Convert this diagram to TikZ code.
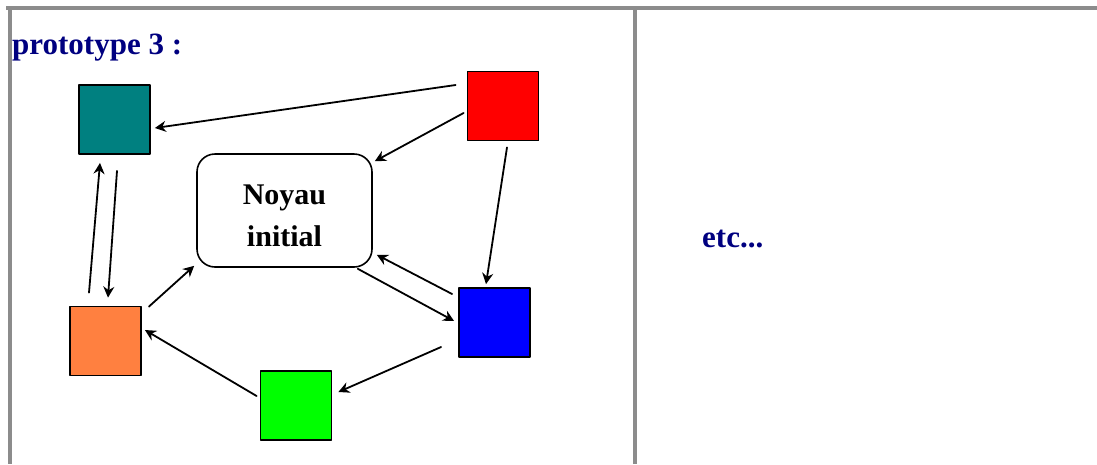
\documentclass[tikz,border=0pt]{standalone}
\usepackage{fontspec}
\setmainfont{Liberation Serif}
\usetikzlibrary{arrows.meta}
\definecolor{navy}{HTML}{000080}
\definecolor{tealbox}{HTML}{008080}
\definecolor{orangebox}{HTML}{FF8040}
\definecolor{framegray}{HTML}{8C8C8C}
\begin{document}
\begin{tikzpicture}[x=1pt, y=-1pt, line join=round, line cap=round,
	>={Stealth[length=11pt,width=11pt]},
	sq/.style={draw=black, line width=1.8pt, minimum width=71pt, minimum height=69pt, inner sep=0pt},
	arr/.style={->, line width=1.8pt},
	frame/.style={draw=framegray, line width=3.5pt, line cap=butt}]
	\useasboundingbox (0,0) rectangle (1097,464);
	\draw[frame] (6,8)--(1097,8) (10,8)--(10,464) (635,8)--(635,464);
	\node[anchor=base west, text=navy, font=\fontsize{31}{36}\selectfont\bfseries, inner sep=0pt] (title) at (12,54) {prototype 3 :};
	\node[anchor=base west, text=navy, font=\fontsize{31}{36}\selectfont\bfseries, inner sep=0pt] (etc) at (702,247) {etc...};
	\node[draw=black, line width=1.6pt, rounded corners=18pt, minimum width=175pt, minimum height=113pt,
		align=center, font=\fontsize{30}{42}\selectfont\bfseries] (noyau) at (284.5,210.5) {\rule{0pt}{31pt}Noyau\\initial};
	\node[sq, fill=tealbox] (teal) at (114.5,119.5) {};
	\node[sq, fill=red] (red) at (503,106) {};
	\node[sq, fill=orangebox] (orange) at (105.5,341) {};
	\node[sq, fill=blue] (blue) at (494.5,322.5) {};
	\node[sq, fill=green] (green) at (296,405.5) {};
	\draw[arr] ([xshift=-11pt,yshift=21pt]red.west)--([xshift=4pt,yshift=-8.5pt]teal.east);
	\draw[arr] ([xshift=-3pt,yshift=-7pt]red.west)--([xshift=2pt,yshift=-8pt]noyau.north east);
	\draw[arr] ([xshift=4pt,yshift=-6pt]red.south)--([xshift=-8.5pt,yshift=3pt]blue.north);
	\draw[arr] ([xshift=-6pt,yshift=28.5pt]blue.west)--([xshift=4pt,yshift=13pt]noyau.south east);
	\draw[arr] ([xshift=-15pt,yshift=-1pt]noyau.south east)--([xshift=-4pt,yshift=1.5pt]blue.west);
	\draw[arr] ([xshift=-17pt,yshift=-24.5pt]blue.west)--([xshift=6pt,yshift=13.5pt]green.east);
	\draw[arr] ([xshift=-3pt,yshift=9.5pt]green.west)--([xshift=3pt,yshift=11pt]orange.east);
	\draw[arr] ([xshift=7pt,yshift=-1pt]orange.north east)--([xshift=-2pt,yshift=2pt]noyau.south west);
	\draw[arr] ([xshift=-16.5pt,yshift=13pt]orange.north)--([xshift=-14.5pt,yshift=-8pt]teal.south);
	\draw[arr] ([xshift=2.5pt,yshift=-16pt]teal.south)--([xshift=2.5pt,yshift=8pt]orange.north);
\end{tikzpicture}
\end{document}
